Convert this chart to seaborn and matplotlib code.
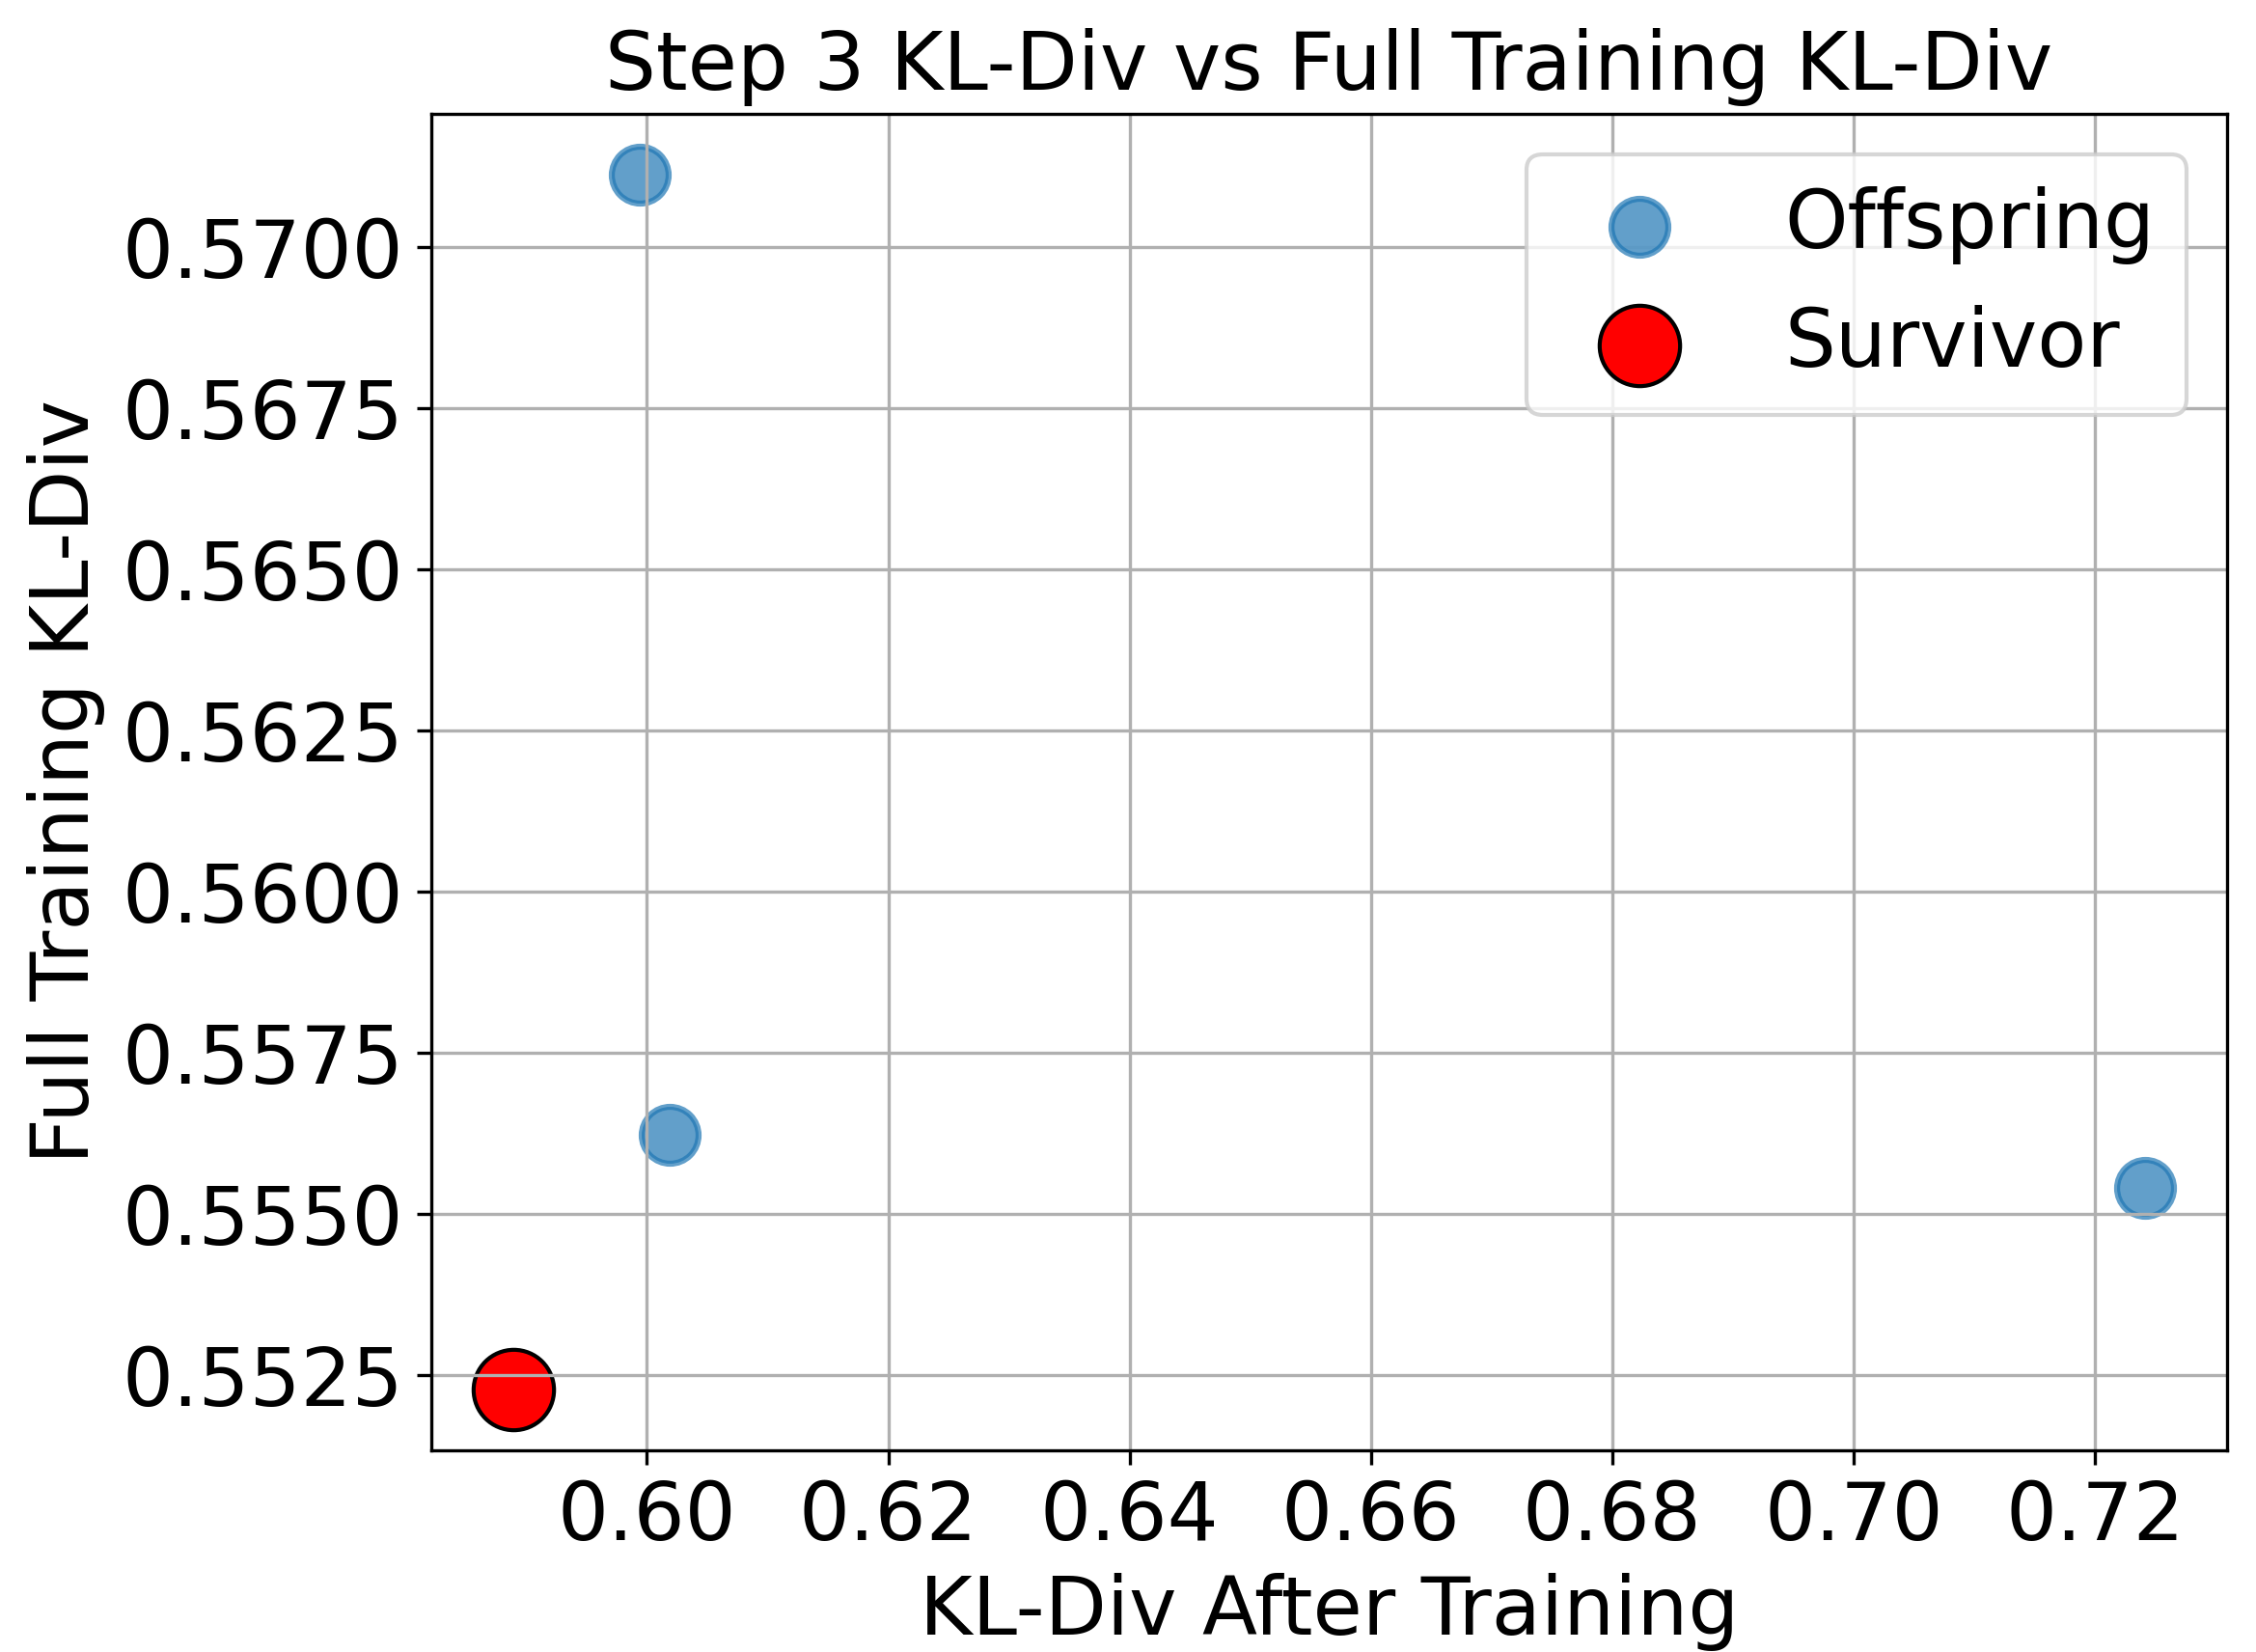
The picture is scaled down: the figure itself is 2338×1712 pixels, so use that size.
import matplotlib
matplotlib.use("Agg")
import matplotlib.pyplot as plt
import seaborn as sns
import pandas as pd

# values
offspring_kl_after = [0.5994, 0.6019, 0.7242]
offspring_full_kl = [0.57112, 0.55623, 0.55540]
survivor_kl_after = [0.5889]
survivor_full_kl = [0.55228]

off = pd.DataFrame({'after': offspring_kl_after, 'full': offspring_full_kl})
surv = pd.DataFrame({'after': survivor_kl_after, 'full': survivor_full_kl})

fig, ax = plt.subplots(figsize=(2338/300, 1712/300), dpi=300)
sns.scatterplot(data=off, x='after', y='full', ax=ax, s=200, alpha=0.7,
                color='#1f77b4', edgecolor='face', linewidth=1.5, label='Offspring')
sns.scatterplot(data=surv, x='after', y='full', ax=ax, s=400, color='red',
                edgecolor='black', linewidth=1.0, label='Survivor')

ax.set_title('Step 3 KL-Div vs Full Training KL-Div', fontsize=20)
ax.set_xlabel('KL-Div After Training', fontsize=20)
ax.set_ylabel('Full Training KL-Div', fontsize=20)
ax.tick_params(labelsize=20)
ax.xaxis.set_major_locator(matplotlib.ticker.MultipleLocator(0.02))
ax.yaxis.set_major_locator(matplotlib.ticker.MultipleLocator(0.0025))
ax.yaxis.set_major_formatter(matplotlib.ticker.FormatStrFormatter('%.4f'))
ax.xaxis.set_major_formatter(matplotlib.ticker.FormatStrFormatter('%.2f'))
ax.grid(True)
ax.legend(fontsize=20, loc='upper right')

fig.subplots_adjust(left=0.1912, right=0.9872, top=0.9311, bottom=0.1221)
fig.savefig('out.png', dpi=300)
